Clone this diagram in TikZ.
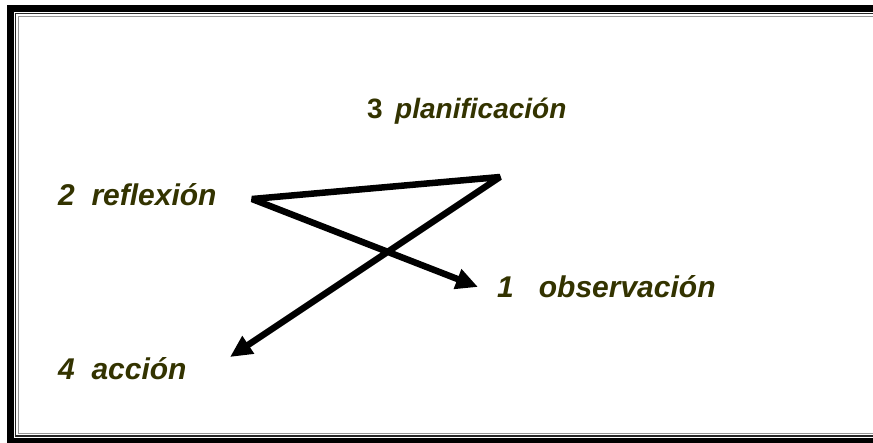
\documentclass[tikz,border=0pt]{standalone}
\usepackage{fontspec}
\setmainfont{Liberation Sans}
\usetikzlibrary{arrows.meta}
\definecolor{labelolive}{RGB}{51,51,0}
\definecolor{framegray}{RGB}{150,150,150}

\begin{document}
\begin{tikzpicture}[x=1pt, y=-1pt, >={Triangle[length=22pt,width=20pt]},
  stagelabel/.style={anchor=base west, inner sep=0pt, text=labelolive,
    font=\fontsize{30}{36}\selectfont\bfseries\itshape},
  cycleline/.style={line width=6.5pt, line join=bevel}]
  % Bildbereich
  \useasboundingbox (0,0) rectangle (873,442);
  \clip (0,0) rectangle (873,442);
  % Rahmen
  \draw[line width=7pt] (10.5,8.5) rectangle (890,441.5);
  \draw[line width=1.2pt, black!85] (15.5,13.5) rectangle (890,436);
  \draw[line width=1pt, framegray] (18.5,16.5) rectangle (890,433.5);
  % Beschriftung
  \node[stagelabel, font=\fontsize{28}{34}\selectfont\bfseries\itshape] (plan) at (367,118)
    {{\upshape 3}\ \,planificación};
  \node[stagelabel] (reflex) at (58,205) {2\ \ reflexión};
  \node[stagelabel] (obs) at (497,297) {1\ \ \ observación};
  \node[stagelabel] (acc) at (58,379) {4\ \ acción};
  % Ecken und Pfeilspitzen
  \coordinate (cReflex) at (252,199);
  \coordinate (cPlan) at (500,177);
  \coordinate (tipObs) at (478,287);
  \coordinate (tipAcc) at (230,357);
  % Linienzug zeichnen
  \draw[cycleline, <->] (tipObs) -- (cReflex) -- (cPlan) -- (tipAcc);
\end{tikzpicture}
\end{document}
